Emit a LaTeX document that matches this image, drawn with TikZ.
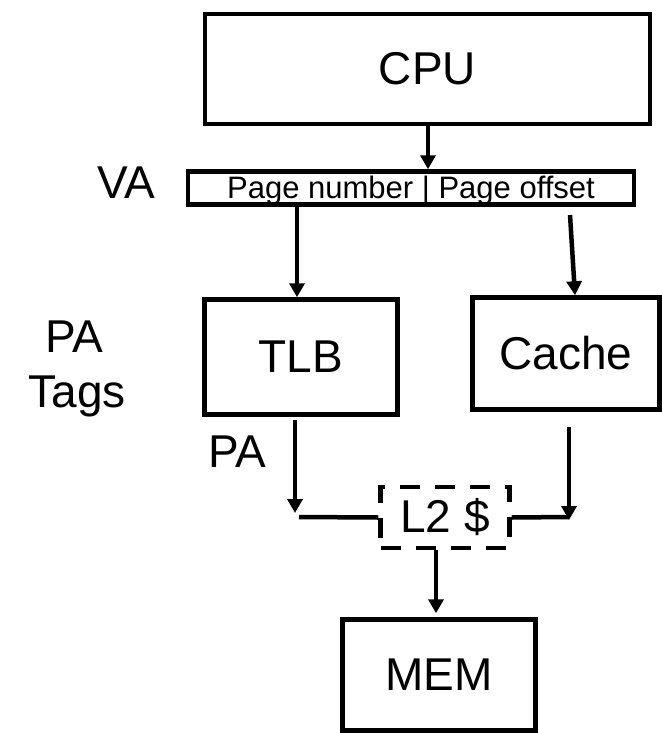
\documentclass[tikz,border=0pt]{standalone}
\usepackage{fontspec}
\setmainfont{Liberation Sans}
\usetikzlibrary{arrows.meta}
\begin{document}
\begin{tikzpicture}[x=1pt,y=-1pt,
  bigfont/.style={font=\fontsize{46}{50}\selectfont},
  unitbox/.style={draw, line width=4.5pt, inner sep=0pt, bigfont},
  l2box/.style={unitbox, dash pattern=on 20pt off 15pt},
  sidelabel/.style={inner sep=0pt, bigfont, anchor=base},
  arr/.style={line width=4.5pt, -{Triangle[width=15pt,length=14pt]}},
  wire/.style={line width=4.5pt}]
\useasboundingbox (0,0) rectangle (661,733);

% units
\node[unitbox, minimum width=445pt, minimum height=110pt] (cpu) at (427.5,69) {CPU};
\node[unitbox, minimum width=446pt, minimum height=33pt,
      font=\fontsize{31}{34}\selectfont, text height=24pt, text depth=4pt]
      (va) at (411,188) {Page number | Page offset};
\node[unitbox, minimum width=193pt, minimum height=115pt] (tlb) at (301,357) {TLB};
\node[unitbox, minimum width=187pt, minimum height=112pt] (cache) at (566,353.5) {Cache};
\node[l2box, minimum width=129pt, minimum height=61pt] (l2) at (445,517.5) {L2 \$};
\node[unitbox, minimum width=193pt, minimum height=111pt] (mem) at (439,675) {MEM};

% side labels
\node[sidelabel] (valbl) at (126,198) {VA};
\node[sidelabel] (patag1) at (74,352) {PA};
\node[sidelabel] (patag2) at (77,407) {Tags};
\node[sidelabel] (palbl) at (237,467) {PA};

% connector anchors
\coordinate (cpux) at (428,0);
\coordinate (pnx) at (297,0);
\coordinate (potop) at (570,215);
\coordinate (poend) at (575,0);
\coordinate (tlbtop) at (295,420);
\coordinate (tlbtip) at (295,513);
\coordinate (tlbjoin) at (299,517);
\coordinate (cachetop) at (569,427);
\coordinate (cachetip) at (569,520);
\coordinate (cachejoin) at (569,517);
\coordinate (memx) at (436,0);

% connectors
\draw[arr] (cpu.south -| cpux) -- (va.north -| cpux);
\draw[arr] (va.south -| pnx) -- (tlb.north -| pnx);
\draw[arr] (potop) -- (cache.north -| poend);
\draw[arr] (tlbtop) -- (tlbtip);
\draw[wire] (tlbjoin) -- (l2.west);
\draw[arr] (cachetop) -- (cachetip);
\draw[wire] (l2.east) -- (cachejoin);
\draw[arr, shorten >=4pt] (l2.south -| memx) -- (mem.north -| memx);
\end{tikzpicture}
\end{document}
